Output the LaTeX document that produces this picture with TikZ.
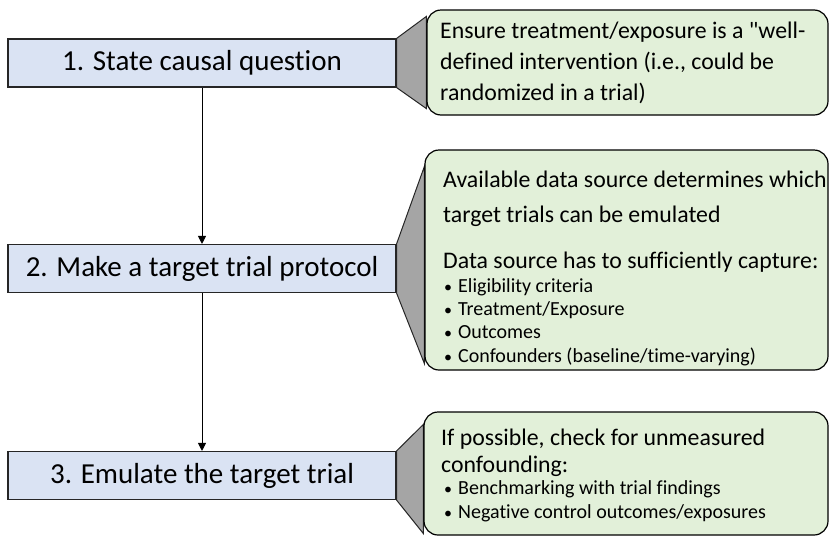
\documentclass[tikz,border=0pt]{standalone}
\usepackage{fontspec}
\setmainfont{Carlito}[Ligatures={TeXOff,NoCommon}]
\usetikzlibrary{arrows.meta, backgrounds}

\definecolor{stepblue}{HTML}{DAE3F3}
\definecolor{notegreen}{HTML}{E2F0D9}
\definecolor{wedgegray}{HTML}{A5A5A5}

\newcommand{\bul}{\makebox[14pt][l]{\scalebox{0.8}{•}}}

\begin{document}
\begin{tikzpicture}[x=1pt, y=-1pt,
  stepbox/.style = {draw=black!85, line width=1.1pt, fill=stepblue, minimum width=388pt, minimum height=48pt, inner sep=0pt, font=\fontsize{29}{35}\selectfont},
  note/.style = {draw=black, line width=1.2pt, fill=notegreen, rounded corners=14pt, inner sep=0pt},
  wedge/.style = {draw=black!85, line width=1pt, fill=wedgegray},
  txt/.style = {anchor=base west, align=left, inner sep=0pt},
  big/.style = {font=\fontsize{23.8}{#1}\selectfont},
  small/.style = {font=\fontsize{20}{23.3}\selectfont},
  flow/.style = {line width=1pt, -{Triangle[width=8pt, length=8pt]}}]
\useasboundingbox (0,0) rectangle (830,536);

% the three steps
\node[stepbox] (s1) at (202,63) {1. State causal question};
\node[stepbox] (s2) at (202,268.5) {2. Make a target trial protocol};
\node[stepbox] (s3) at (202,475.5) {3. Emulate the target trial};

\draw[flow] (s1) -- (s2);
\draw[flow] (s2) -- (s3);

% notes on the right
\node[note, minimum width=401pt, minimum height=105pt] (c1) at (627.5,62.5) {};
\node[note, minimum width=403pt, minimum height=220pt] (c2) at (626.5,260) {};
\node[note, minimum width=404pt, minimum height=123pt] (c3) at (626,473.5) {};

\begin{pgfonlayer}{background}
\draw[wedge] (s1.north east) -- ([yshift=-7pt]c1.north west) -- ([yshift=7pt]c1.south west) -- (s1.south east) -- cycle;
\draw[wedge] (s2.north east) -- ([yshift=-17pt]c2.north west) -- ([yshift=7pt]c2.south west) -- (s2.south east) -- cycle;
\draw[wedge] (s3.north east) -- ([yshift=-13pt]c3.north west) -- ([yshift=2pt]c3.south west) -- (s3.south east) -- cycle;
\end{pgfonlayer}

% note texts (placed by the baseline of their last line)
\node[txt, big=31] (n1) at (440,100) {Ensure treatment/exposure is a "well-\\defined intervention (i.e., could be\\randomized in a trial)};

\node[txt, big=35] (n2) at (443,222) {Available data source determines which\\target trials can be emulated};
\node[txt, big=35] (n2b) at (443,268) {Data source has to sufficiently capture:};
\node[txt, small] (l2) at (444,362) {\bul Eligibility criteria\\\bul Treatment/Exposure\\\bul Outcomes\\\bul Confounders (baseline/time-varying)};

\node[txt, big=27] (n3) at (441,472) {If possible, check for unmeasured\\confounding:};
\node[txt, small] (l3) at (444,518) {\bul Benchmarking with trial findings\\\bul Negative control outcomes/exposures};
\end{tikzpicture}
\end{document}
